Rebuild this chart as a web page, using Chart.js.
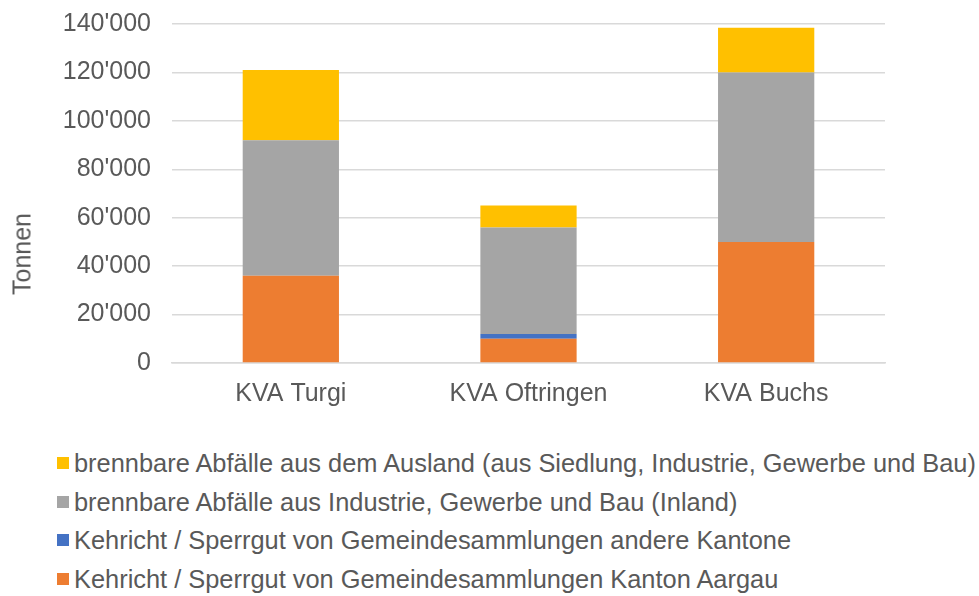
<!DOCTYPE html>
<html>
<head>
<meta charset="utf-8">
<script src="https://cdn.jsdelivr.net/npm/chart.js@4"></script>
<style>
  body { margin: 0; background: #fff; font-family: "Liberation Sans", Arial, sans-serif; overflow: hidden; }
  #wrap { position: relative; width: 979px; height: 596px; overflow: hidden; }
  #box { position: absolute; left: 0; top: -12px; width: 979px; height: 434px; }
  #ytitle { position: absolute; left: 22px; top: 254px; transform: translate(-50%, -50%) rotate(-90deg);
            color: #595959; font-size: 25px; white-space: nowrap; }
  #legend { position: absolute; left: 57px; top: 444px; color: #595959; font-size: 25.4px; }
  #legend div { height: 38.5px; line-height: 38px; white-space: nowrap; display: flex; align-items: center; }
  #legend span.sw { display: inline-block; width: 12px; height: 12px; margin-right: 5px; }
</style>
</head>
<body>
<div id="wrap">
  <div id="box"><canvas id="myChart"></canvas></div>
  <div id="ytitle">Tonnen</div>
  <div id="legend"></div>
</div>
<script>
// categories + series (Tonnen)
const plants = ['KVA Turgi', 'KVA Oftringen', 'KVA Buchs'];
const aargau = [36000, 10000, 50000];
const otherCantons = [0, 2000, 0];
const industryDomestic = [56000, 44000, 70000];
const abroad = [29000, 9000, 18500];

const txt = '#595959';
const grid = '#d9d9d9';
const fontFam = '"Liberation Sans", Arial, sans-serif';

// swiss thousands separator
const fmt = (v) => String(v).replace(/\B(?=(\d{3})+(?!\d))/g, "'");

const chartData = {
  labels: plants,
  datasets: [
    { label: 'Kehricht / Sperrgut von Gemeindesammlungen Kanton Aargau', data: aargau, backgroundColor: '#ED7D31' },
    { label: 'Kehricht / Sperrgut von Gemeindesammlungen andere Kantone', data: otherCantons, backgroundColor: '#4472C4' },
    { label: 'brennbare Abfälle aus Industrie, Gewerbe und Bau (Inland)', data: industryDomestic, backgroundColor: '#A5A5A5' },
    { label: 'brennbare Abfälle aus dem Ausland (aus Siedlung, Industrie, Gewerbe und Bau)', data: abroad, backgroundColor: '#FFC000' },
  ],
};

window.myChart = new Chart(document.getElementById('myChart'), {
  type: 'bar',
  data: chartData,
  options: {
    responsive: true,
    maintainAspectRatio: false,
    animation: false,
    layout: { padding: { left: 8, right: 94, top: 11, bottom: 5 } },
    datasets: { bar: { barPercentage: 0.405, categoryPercentage: 1 } },
    plugins: {
      legend: { display: false },
      tooltip: { enabled: false }
    },
    scales: {
      x: {
        stacked: true,
        grid: { display: false },
        border: { display: true, color: grid, width: 1.5 },
        ticks: { color: txt, font: { family: fontFam, size: 25 }, padding: 8 }
      },
      y: {
        stacked: true,
        min: 0,
        max: 140000,
        afterFit: (s) => { s.width = 164; },
        border: { display: false },
        grid: { color: grid, lineWidth: 1.5, drawTicks: false },
        ticks: { stepSize: 20000, color: txt, font: { family: fontFam, size: 25 }, padding: 21, callback: (v) => fmt(v) }
      }
    }
  }
});

// legend below, reversed like the original
const lg = document.getElementById('legend');
chartData.datasets.slice().reverse().forEach((d) => {
  const row = document.createElement('div');
  row.innerHTML = '<span class="sw" style="background:' + d.backgroundColor + '"></span>' + d.label;
  lg.appendChild(row);
});
</script>
</body>
</html>
